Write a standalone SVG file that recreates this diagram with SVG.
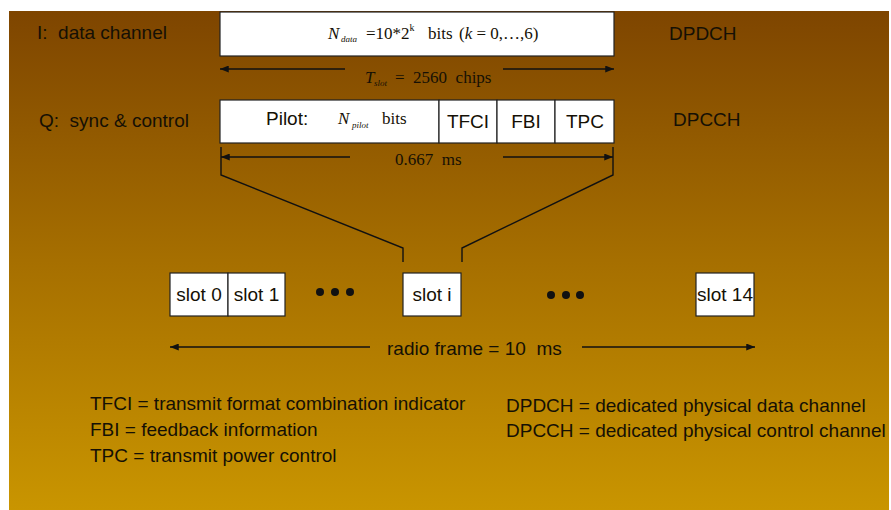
<svg xmlns="http://www.w3.org/2000/svg" width="891" height="510" viewBox="0 0 891 510">
<defs>
<linearGradient id="bg" x1="0" y1="0" x2="0" y2="1">
<stop offset="0" stop-color="#7e4500"/>
<stop offset="0.5" stop-color="#a66f00"/>
<stop offset="1" stop-color="#c99500"/>
</linearGradient>
<marker id="ah" viewBox="0 0 10 8" refX="10" refY="4" markerWidth="9" markerHeight="7" markerUnits="userSpaceOnUse" orient="auto-start-reverse">
<path d="M0,0 L10,4 L0,8 Z" fill="#111"/>
</marker>
<style>
text{white-space:pre}
.box{fill:#fff;stroke:#222;stroke-width:1.2}
.sans{font-family:"Liberation Sans",Arial,sans-serif;font-size:19px;fill:#151005}
.serif{font-family:"Liberation Serif","Times New Roman",serif;font-size:17px;fill:#151005}
.it{font-style:italic}
.sub{font-family:"Liberation Serif","Times New Roman",serif;font-style:italic;font-size:9px;fill:#151005}
.ln{fill:none;stroke:#111;stroke-width:1.4}
.dot{fill:#111}
</style>
</defs>
<rect x="0" y="0" width="891" height="510" fill="#fff"/>
<rect x="9" y="11" width="880" height="499" fill="url(#bg)"/>

<g id="labels">
<text class="sans" x="37" y="39">I:  data channel</text>
<text class="sans" x="39" y="127">Q:  sync &amp; control</text>
<text class="sans" x="669" y="40">DPDCH</text>
<text class="sans" x="673" y="126">DPCCH</text>
</g>

<g id="dpdch">
<rect class="box" x="220" y="12" width="394" height="44"/>
<text class="serif it" x="328" y="39">N</text>
<text class="sub" x="341" y="42">data</text>
<text class="serif" x="366" y="39" font-size="16">=10*2<tspan dy="-8" font-size="10">k</tspan></text>
<text class="serif" x="428" y="39">bits</text>
<text class="serif" x="459" y="39">(<tspan class="it">k</tspan> = 0,…,6)</text>
</g>

<g id="dpcch">
<rect class="box" x="220" y="100" width="219" height="43"/>
<rect class="box" x="439" y="100" width="58" height="43"/>
<rect class="box" x="497" y="100" width="58" height="43"/>
<rect class="box" x="555" y="100" width="59" height="43"/>
<text class="sans" x="266" y="125">Pilot:</text>
<text class="serif it" x="338" y="124">N</text>
<text class="sub" x="352" y="128">pilot</text>
<text class="serif" x="382" y="124">bits</text>
<text class="sans" x="468" y="128" text-anchor="middle">TFCI</text>
<text class="sans" x="526" y="128" text-anchor="middle">FBI</text>
<text class="sans" x="585" y="128" text-anchor="middle">TPC</text>
</g>

<g id="slot0">
<rect class="box" x="170" y="273" width="58" height="43"/>
<text class="sans" x="199" y="301" text-anchor="middle">slot 0</text>
</g>
<g id="slot1">
<rect class="box" x="228" y="273" width="57" height="43"/>
<text class="sans" x="256.5" y="301" text-anchor="middle">slot 1</text>
</g>
<g id="sloti">
<rect class="box" x="403" y="273" width="58" height="43"/>
<text class="sans" x="432" y="301" text-anchor="middle">slot i</text>
</g>
<g id="slot14">
<rect class="box" x="696" y="273" width="58" height="43"/>
<text class="sans" x="725" y="301" text-anchor="middle">slot 14</text>
</g>
<g id="dots">
<circle class="dot" cx="320" cy="292" r="4"/>
<circle class="dot" cx="335" cy="292" r="4"/>
<circle class="dot" cx="350" cy="292" r="4"/>
<circle class="dot" cx="551" cy="295" r="4"/>
<circle class="dot" cx="566" cy="295" r="4"/>
<circle class="dot" cx="580" cy="295" r="4"/>
</g>

<g id="connectors">
<line class="ln" x1="345" y1="69" x2="220" y2="69" marker-end="url(#ah)"/>
<line class="ln" x1="503" y1="69" x2="614" y2="69" marker-end="url(#ah)"/>
<line class="ln" x1="350" y1="157" x2="221" y2="157" marker-end="url(#ah)"/>
<line class="ln" x1="503" y1="157" x2="613" y2="157" marker-end="url(#ah)"/>
<path class="ln" d="M221 147 V175 L403 248 V262"/>
<path class="ln" d="M613 147 V175 L462 248 V262"/>
<line class="ln" x1="370" y1="347" x2="170" y2="347" marker-end="url(#ah)"/>
<line class="ln" x1="582" y1="347" x2="755" y2="347" marker-end="url(#ah)"/>
</g>

<g id="dimtexts">
<text class="serif it" x="365" y="83">T</text>
<text class="sub" x="374" y="86">slot</text>
<text class="serif" x="395" y="83">=  2560  chips</text>
<text class="serif" x="395" y="165">0.667  ms</text>
<text class="sans" x="387" y="355">radio frame = 10  ms</text>
</g>

<g id="legend">
<text class="sans" x="90" y="410">TFCI = transmit format combination indicator</text>
<text class="sans" x="90" y="436">FBI = feedback information</text>
<text class="sans" x="90" y="462">TPC = transmit power control</text>
<text class="sans" x="506" y="412">DPDCH = dedicated physical data channel</text>
<text class="sans" x="506" y="437">DPCCH = dedicated physical control channel</text>
</g>
</svg>
